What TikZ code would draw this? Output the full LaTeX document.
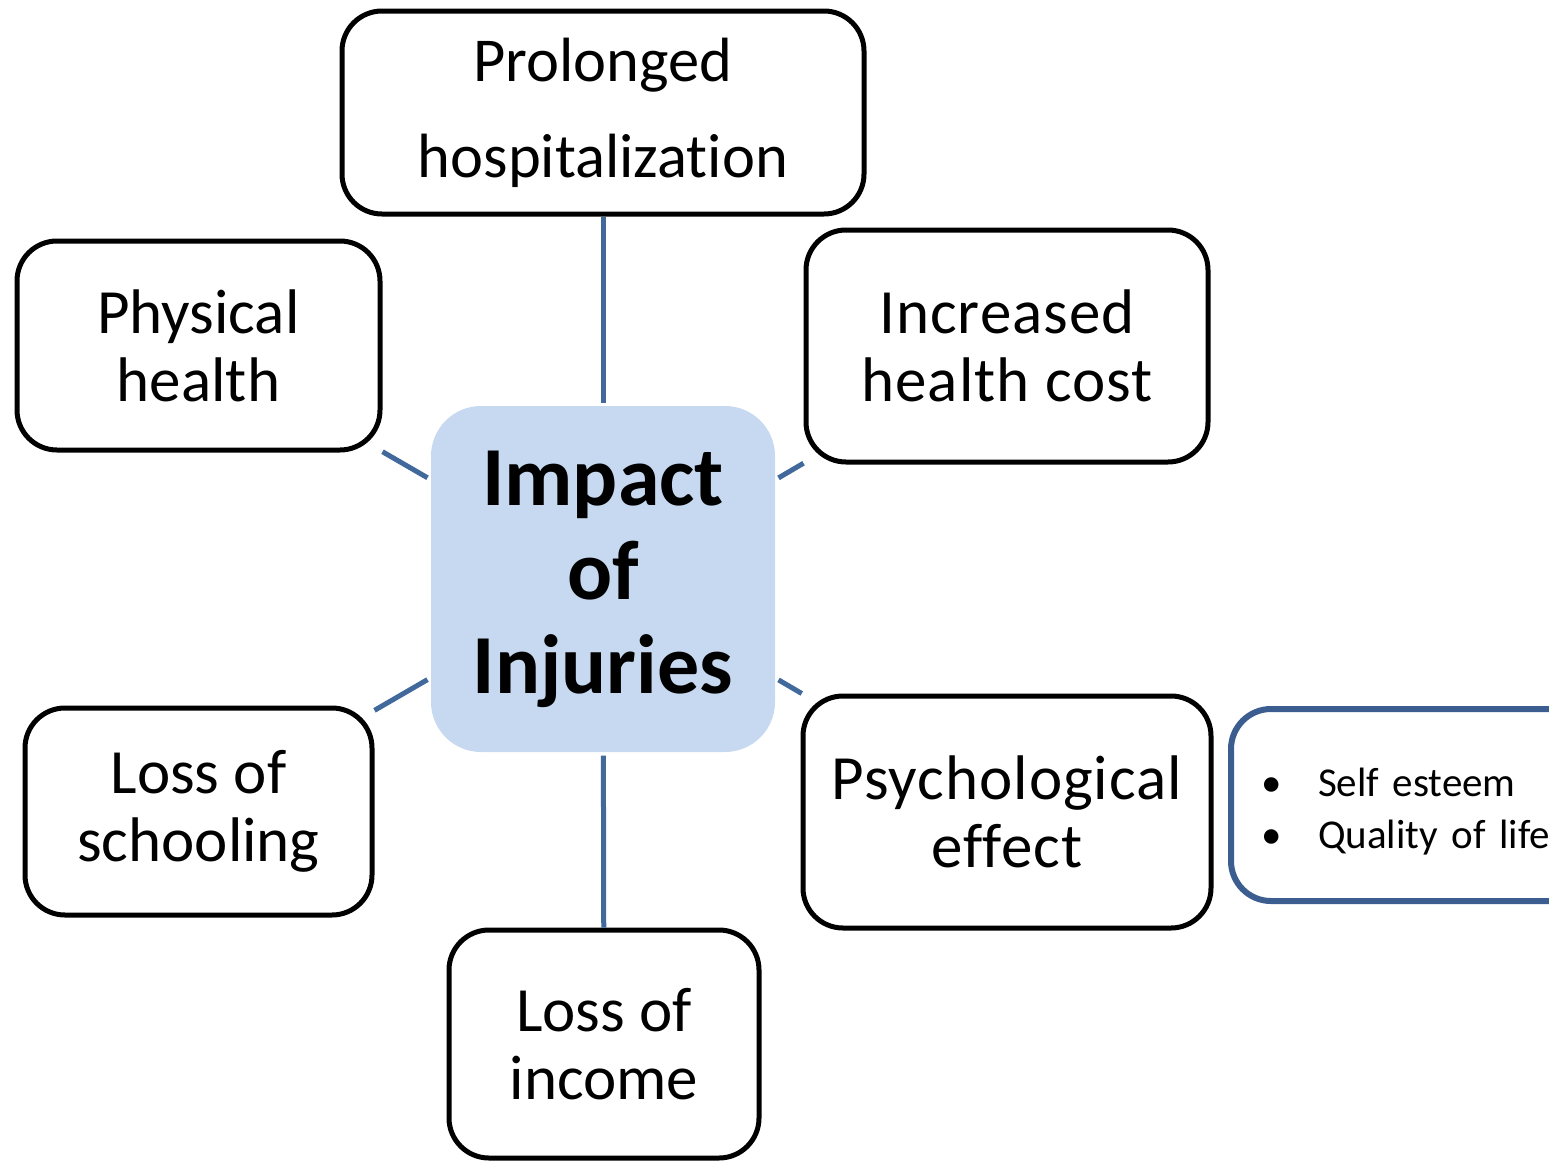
\documentclass[tikz,border=0pt]{standalone}
\usepackage{fontspec}
\setmainfont{Carlito}[Ligatures=NoCommon]
\definecolor{conn}{HTML}{41699C}
\definecolor{bbox}{HTML}{3B5D8F}
\definecolor{cfill}{HTML}{C6D9F1}
\tikzset{
  item/.style={draw=black, line width=5pt, rounded corners=40pt, align=center,
    inner sep=0pt, font=\fontsize{63}{68}\selectfont},
  wide/.style={font=\fontsize{63}{68}\selectfont\addfontfeature{LetterSpace=1.6}},
  hub/.style={fill=cfill, rounded corners=50pt, align=center, inner sep=0pt,
    font=\bfseries\fontsize{84}{94}\selectfont, outer sep=3.5pt,
    minimum width=344pt, minimum height=346pt},
  link/.style={draw=conn, line width=5pt},
  note/.style={draw=bbox, line width=6pt, rounded corners=40pt, align=left,
    inner xsep=30pt, inner ysep=0pt, text width=329pt,
    minimum width=389pt, minimum height=192pt, font=\fontsize{41}{52}\selectfont}
}
\begin{document}
\begin{tikzpicture}[x=1pt,y=-1pt]
\useasboundingbox (0,0) rectangle (1549,1162);
\clip (0,0) rectangle (1549,1162);
\node[hub] (hub) at (603,579) {Impact\\of\\Injuries};
\node[item, minimum width=522pt, minimum height=203pt, font=\fontsize{62.5}{96}\selectfont] (prol) at (603,112.5) {Prolonged\\hospitalization};
\node[item, minimum width=363pt, minimum height=209pt] (phys) at (198.5,345.5) {Physical\\health};
\node[item, wide, minimum width=402pt, minimum height=232pt] (incr) at (1007,346) {Increased\\health cost};
\node[item, wide, minimum width=408pt, minimum height=232pt] (psych) at (1007,812) {Psychological\\effect};
\node[item, minimum width=347pt, minimum height=207pt] (school) at (198.5,811.5) {Loss of\\schooling};
\node[item, minimum width=310pt, minimum height=228pt] (income) at (604,1044) {Loss of\\income};
\node[note] (psynote) at (1425.5,805) {\rule{0pt}{41pt}\makebox[57pt][l]{•}Self esteem\\\makebox[57pt][l]{•}Quality of life};
\draw[link] (hub) -- (prol);
\draw[link] (hub) -- (phys);
\draw[link] (hub) -- (incr);
\draw[link] (hub) -- (psych);
\draw[link] (hub) -- (school);
\draw[link] (hub) -- (income);
\end{tikzpicture}
\end{document}
